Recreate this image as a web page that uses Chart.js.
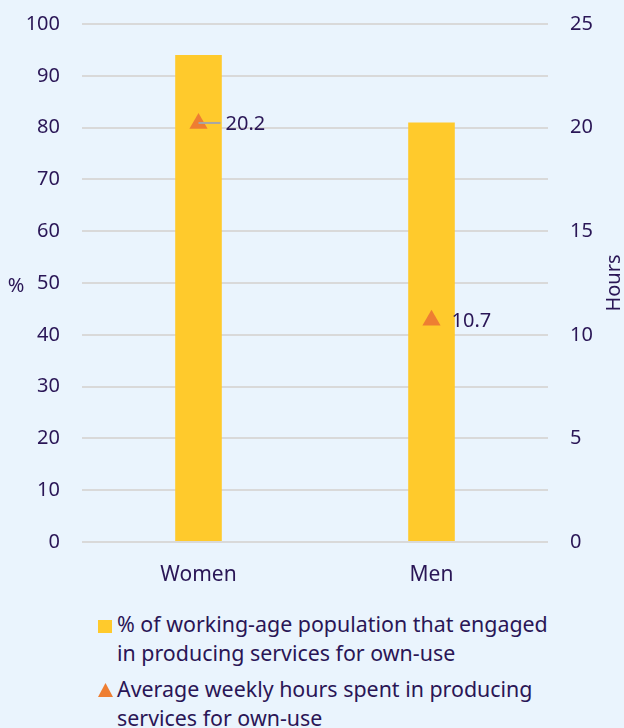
<!DOCTYPE html>
<html><head><meta charset="utf-8">
<script src="https://cdn.jsdelivr.net/npm/chart.js@4"></script>
<style>
html,body{margin:0;padding:0;background:#EAF4FD;}
#wrap{position:relative;width:624px;height:728px;overflow:hidden;background:#EAF4FD;}
#cbox{position:absolute;left:0;top:-10px;width:624px;height:610px;}
.leg{position:absolute;left:117px;width:500px;font:21.4px "Noto Sans",sans-serif;color:#2A1656;line-height:29px;}
.mk{position:absolute;left:98px;}
</style></head>
<body>
<div id="wrap">
  <div id="cbox"><canvas id="c"></canvas></div>
  <div class="mk" style="top:620px;width:14px;height:13px;background:#FFCA2C;"></div>
  <div class="leg" style="top:609px;">% of working-age population that engaged<br>in producing services for own-use</div>
  <svg class="mk" style="top:683px;" width="15" height="14"><polygon points="7.5,0 15,14 0,14" fill="#EE7E32"/></svg>
  <div class="leg" style="top:674px;">Average weekly hours spent in producing<br>services for own-use</div>
</div>
<script>
const categories = ['Women', 'Men'];
const pctValues = [94, 81];
const hourValues = [20.2, 10.7];
const pctAxis = { min: 0, max: 100, step: 10 };
const hourAxis = { min: 0, max: 25, step: 5 };

const TXT = '#2A1656';
const FONT = { family: 'Noto Sans', size: 20 };

const extras = {
  id: 'extras',
  afterDatasetsDraw(chart) {
    const ctx = chart.ctx;
    const meta = chart.getDatasetMeta(1);
    const offs = [27, 20];
    ctx.save();
    meta.data.forEach((pt, i) => {
      if (i === 0) {
        ctx.strokeStyle = '#A6A6A6';
        ctx.lineWidth = 2;
        ctx.beginPath();
        ctx.moveTo(pt.x, pt.y - 0.5);
        ctx.lineTo(pt.x + 22, pt.y - 0.5);
        ctx.stroke();
      }
      ctx.fillStyle = TXT;
      ctx.font = '20px "Noto Sans"';
      ctx.textAlign = 'left';
      ctx.textBaseline = 'middle';
      ctx.fillText(hourValues[i].toFixed(1), pt.x + offs[i], pt.y + 1);
    });
    ctx.restore();
  },
  afterDraw(chart) {
    const ctx = chart.ctx;
    const a = chart.chartArea;
    const midY = (a.top + a.bottom) / 2;
    ctx.save();
    ctx.fillStyle = TXT;
    ctx.font = '20px "Noto Sans"';
    ctx.textAlign = 'center';
    ctx.textBaseline = 'middle';
    ctx.fillText('%', 16, midY + 3);
    ctx.translate(614, midY);
    ctx.rotate(-Math.PI / 2);
    ctx.fillText('Hours', 0, 0);
    ctx.restore();
  }
};

new Chart(document.getElementById('c'), {
  data: {
    labels: categories,
    datasets: [
      {
        type: 'bar',
        label: '% of working-age population that engaged in producing services for own-use',
        data: pctValues,
        backgroundColor: '#FFCA2C',
        yAxisID: 'y',
        barPercentage: 0.2,
        categoryPercentage: 1,
        order: 2
      },
      {
        type: 'line',
        label: 'Average weekly hours spent in producing services for own-use',
        data: hourValues,
        showLine: false,
        pointStyle: 'triangle',
        pointRadius: 10.5,
        pointHoverRadius: 10.5,
        backgroundColor: '#EE7E32',
        borderColor: '#EE7E32',
        borderWidth: 0,
        yAxisID: 'y1',
        order: 1
      }
    ]
  },
  options: {
    responsive: true,
    maintainAspectRatio: false,
    animation: false,
    events: [],
    layout: { padding: { top: 14, left: 0, right: 0, bottom: 0 } },
    plugins: { legend: { display: false }, tooltip: { enabled: false } },
    scales: {
      x: {
        grid: { display: false },
        border: { display: false },
        ticks: { color: TXT, font: { family: 'Noto Sans', size: 21 }, padding: 12 },
        afterFit(a) { a.height = 58; }
      },
      y: {
        position: 'left',
        min: pctAxis.min, max: pctAxis.max,
        ticks: { stepSize: pctAxis.step, color: TXT, font: FONT, padding: 22 },
        grid: { color: '#D9D9D9', lineWidth: 2, drawTicks: false },
        border: { display: false },
        afterFit(a) { a.width = 82; }
      },
      y1: {
        position: 'right',
        min: hourAxis.min, max: hourAxis.max,
        ticks: { stepSize: hourAxis.step, color: TXT, font: FONT, padding: 22 },
        grid: { display: false, drawTicks: false },
        border: { display: false },
        afterFit(a) { a.width = 76; }
      }
    }
  },
  plugins: [extras]
});
</script>
</body></html>
